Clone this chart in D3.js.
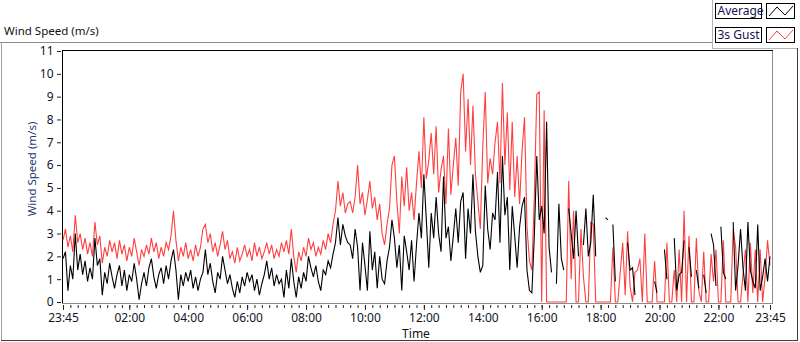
<!DOCTYPE html>
<html>
<head>
<meta charset="utf-8">
<script src="https://cdn.jsdelivr.net/npm/d3@7"></script>
<style>
    body { margin: 0; background: #fff; }
    text { font-family: "Segoe UI", "Noto Sans", sans-serif; }
</style>
</head>
<body>
<script>
var width = 800,
    height = 342;

// data: 5 minute samples from 23:45 to 23:45 next day, null = no reading
var startTime = new Date(2016, 5, 1, 23, 45),
    stepMinutes = 5;

var seriesNames = ["Average", "3s Gust"],
    seriesColors = ["#000000", "#ff4040"];

var avgSpeed = [
    1.9,2.2,0.5,1.6,1.0,3.0,1.4,2.1,1.2,1.8, 0.9,1.5,1.0,2.8,1.6,1.9,0.3,1.3,0.8,1.7,
    1.1,0.6,1.2,1.6,0.7,1.4,0.5,1.2,0.9,1.7, 1.0,0.1,0.8,1.3,0.7,1.5,1.9,1.1,0.6,1.2,
    1.5,0.8,1.6,1.0,1.8,2.3,1.4,0.1,1.2,0.7, 1.3,0.9,1.4,0.6,1.1,0.5,1.0,1.3,
    2.3,1.2,1.7,0.9,0.4,1.3,1.0,2.0,1.4,0.8, 1.2,0.6,0.2,0.9,0.4,1.1,0.7,1.3,0.9,1.2,
    0.5,1.0,0.3,0.8,1.2,1.8,1.0,1.5,0.7,1.2, 0.8,1.0,0.2,1.4,0.6,1.9,0.9,0.2,1.1,0.6,
    1.3,0.9,2.0,1.5,1.1,1.6,0.9,0.5,1.4,1.2, 1.8,1.5,2.1,2.6,3.7,2.5,3.4,2.9,2.6,
    2.5,1.9,3.2,2.4,0.5,2.6,1.6,0.5,3.1,1.4, 2.2,0.6,2.0,1.0,0.8,1.8,2.4,3.6,2.8,1.5,
    2.5,0.5,2.9,2.2,1.4,2.7,0.9,2.5,3.9,2.8, 5.6,3.6,1.5,3.9,2.8,4.6,3.0,2.2,5.5,2.8,
    3.3,1.8,2.9,4.1,2.6,4.4,4.8,1.9,4.1,3.0, 5.6,3.1,2.0,1.3,1.6,5.1,3.2,2.3,3.9,
    3.6,5.7,2.6,6.4,3.8,4.6,1.4,4.2,2.9,1.5, 3.3,4.2,4.6,1.4,0.5,0.4,2.9,6.4,3.6,4.2,
    3.0,7.9,2.4,1.3,null,0.8,4.3,1.9,1.4,null, 4.1,3.0,1.9,4.0,2.0,null,2.5,4.1,2.0,2.6,
    4.7,2.0,null,null,null,3.7,3.6,null,3.4,0.9, null,null,null,null,2.6,1.4,1.5,0.3,
    null,null,null,null,null,null,null,0.9,0.4,null, null,2.3,1.0,null,null,2.8,0.5,1.2,1.3,2.7,
    null,2.4,1.1,null,1.4,0.6,null,1.2,0.4,null, 3.0,2.5,0.7,null,3.3,1.3,1.0,null,null,3.5,
    0.5,1.6,3.2,1.5,0.5,3.5,1.4,0.9,0.6,3.4, 0.5,1.1,1.9,0.9,2.0
];

var gustSpeed = [
    2.7,3.2,2.4,2.9,2.2,3.8,2.6,3.0,2.3,2.8, 2.1,2.6,2.0,3.5,2.5,2.9,1.7,2.4,2.0,2.7,
    2.2,2.6,1.9,2.7,2.1,2.5,1.8,2.4,2.0,2.8, 2.2,1.6,2.3,2.0,2.5,2.1,2.8,2.2,2.6,1.9,
    2.4,2.0,2.6,2.3,2.9,4.0,2.7,1.8,2.4,2.0, 2.6,1.9,2.3,1.8,2.5,2.0,2.4,3.2,
    3.4,2.6,3.0,2.2,2.6,2.0,2.5,3.1,2.3,2.7, 1.9,2.2,1.7,2.4,1.8,2.1,2.5,2.0,2.3,1.8,
    2.6,2.0,2.4,1.9,2.2,2.6,2.1,2.5,1.9,2.3, 2.0,2.6,2.2,2.7,2.1,3.2,2.0,1.3,2.2,1.8,
    2.4,2.0,2.8,2.3,2.6,2.0,2.4,2.1,2.7,2.3, 3.0,2.6,3.4,4.0,5.3,4.2,4.8,3.9,4.3,
    4.4,3.9,4.6,6.0,4.3,4.8,3.8,4.5,5.3,4.1, 4.6,3.6,4.3,3.0,2.5,3.4,4.1,6.0,6.4,4.4,
    3.0,5.5,4.2,5.9,4.0,4.8,3.6,5.2,6.6,5.0, 8.1,5.4,6.2,7.4,5.6,7.7,4.8,5.8,6.4,4.3,
    7.6,4.7,6.0,7.2,5.1,9.2,10.0,6.6,8.9,6.0, 8.6,5.6,4.4,3.2,6.8,9.2,5.2,6.3,5.6,
    7.0,7.9,5.2,9.6,6.0,8.3,4.9,7.9,4.6,6.4, 4.3,6.6,8.1,3.3,1.8,1.4,4.6,9.1,9.2,0,
    8.4,0,0,0,0,0,0,0,0,0, 5.3,1.0,4.0,0,0,3.2,1.1,0,0,3.5,
    3.4,0,0,0,0,0,0,0,2.4,0, 0,1.3,2.6,0.3,3.1,0.7,0,1.3,
    1.4,1.9,0,3.0,0,0,0,1.8,0,0, 0,0,2.6,0,0,1.4,0,2.3,0,4.0,
    0,2.9,0,0,2.8,0.5,0,2.2,0,0, 2.1,0.9,2.3,0,0,2.7,0,0,0,3.2,
    2.4,0,0,1.2,2.3,0,2.6,0.4,2.3,0, 2.3,0,1.1,2.7,1.6
];

var yTickValues = [0,1,2,3,4,5,6,7,8,9,10,11];
var xTickLabels = ["23:45","02:00","04:00","06:00","08:00","10:00","12:00",
                   "14:00","16:00","18:00","20:00","22:00","23:45"];
// end data

var endTime = d3.timeMinute.offset(startTime, 24 * 60);

function timeAt(i) {
    return d3.timeMinute.offset(startTime, i * stepMinutes);
}

function labelToTime(label, idx) {
    if (idx === xTickLabels.length - 1) return endTime;
    var parts = label.split(":");
    var mins = (+parts[0] * 60 + +parts[1]) - (23 * 60 + 45);
    if (mins < 0) mins += 1440;
    return d3.timeMinute.offset(startTime, mins);
}

var xRange = d3.scaleTime().domain([startTime, endTime]).range([63, 770]),
    yRange = d3.scaleLinear().domain([0, 11]).range([302, 51]);

var svg = d3.select("body").append("svg")
    .attr("width", width)
    .attr("height", height);

// frame
svg.append("line").attr("x1", 0).attr("x2", 712).attr("y1", 42.5).attr("y2", 42.5)
    .attr("stroke", "#8c8c8c");
svg.append("line").attr("x1", 1.5).attr("x2", 1.5).attr("y1", 42).attr("y2", 341)
    .attr("stroke", "#a0a0a0");
svg.append("line").attr("x1", 712.5).attr("x2", 712.5).attr("y1", 0).attr("y2", 48)
    .attr("stroke", "#b4b4b4");
svg.append("line").attr("x1", 712).attr("x2", 798).attr("y1", 48.5).attr("y2", 48.5)
    .attr("stroke", "#b4b4b4");
svg.append("line").attr("x1", 797.5).attr("x2", 797.5).attr("y1", 48).attr("y2", 341)
    .attr("stroke", "#3c3c3c");
svg.append("line").attr("x1", 1).attr("x2", 798).attr("y1", 340.5).attr("y2", 340.5)
    .attr("stroke", "#3c3c3c");

svg.append("text")
    .attr("x", 4)
    .attr("y", 35)
    .attr("font-size", 11.5)
    .attr("fill", "#111")
    .text("Wind Speed (m/s)");
// end frame

// plot area border
svg.append("line").attr("x1", 62).attr("x2", 773).attr("y1", 50.5).attr("y2", 50.5)
    .attr("stroke", "#000");
svg.append("line").attr("x1", 62.5).attr("x2", 62.5).attr("y1", 50).attr("y2", 303)
    .attr("stroke", "#000");
svg.append("line").attr("x1", 772.5).attr("x2", 772.5).attr("y1", 51).attr("y2", 304)
    .attr("stroke", "#8c8c8c");
svg.append("line").attr("x1", 62).attr("x2", 773).attr("y1", 303.5).attr("y2", 303.5)
    .attr("stroke", "#8c8c8c");

// series
var gPlot = svg.append("g");
var lineGen = d3.line()
    .defined(function(d) { return d != null; })
    .x(function(d, i) { return xRange(timeAt(i)); })
    .y(function(d) { return yRange(d); });

var seriesData = [avgSpeed, gustSpeed];
[1, 0].forEach(function(s) {
    gPlot.append("path")
        .attr("d", lineGen(seriesData[s]))
        .attr("fill", "none")
        .attr("stroke", seriesColors[s])
        .attr("stroke-width", 1.1);
});
// end series

// y axis
var yAxis = svg.append("g")
    .attr("transform", "translate(61,0)")
    .call(d3.axisLeft(yRange).tickValues(yTickValues).tickSize(4).tickPadding(3.5));
yAxis.select(".domain").remove();
yAxis.selectAll("line").attr("stroke", "#222");
yAxis.selectAll("text")
    .attr("font-size", 12)
    .attr("font-family", null)
    .attr("fill", "#141428");

svg.append("text")
    .attr("transform", "translate(32,169) rotate(-90)")
    .attr("text-anchor", "middle")
    .attr("dy", "0.35em")
    .attr("font-size", 11.5)
    .attr("fill", "#1f3a70")
    .text("Wind Speed (m/s)");
// end y axis

// x axis
var xMinor = svg.append("g")
    .attr("transform", "translate(0,305)")
    .call(d3.axisBottom(xRange).ticks(d3.timeMinute.every(15)).tickFormat("").tickSize(3));
xMinor.select(".domain").remove();
xMinor.selectAll("line").attr("stroke", "#222");

var xTickTimes = xTickLabels.map(labelToTime);
var xMajor = svg.append("g")
    .attr("transform", "translate(0,305)")
    .call(d3.axisBottom(xRange).tickValues(xTickTimes)
        .tickFormat(function(d, i) { return xTickLabels[i]; })
        .tickSize(5).tickPadding(3));
xMajor.select(".domain").remove();
xMajor.selectAll("line").attr("stroke", "#222");
xMajor.selectAll("text")
    .attr("font-size", 12)
    .attr("font-family", null)
    .attr("fill", "#141428");

svg.append("text")
    .attr("x", 416)
    .attr("y", 338)
    .attr("text-anchor", "middle")
    .attr("font-size", 12)
    .attr("fill", "#111")
    .text("Time");
// end x axis

// legend
var legend = svg.append("g");
seriesNames.forEach(function(name, s) {
    var top = 3 + s * 24;
    legend.append("rect")
        .attr("x", 715.5).attr("y", top + 0.5)
        .attr("width", 46).attr("height", 15)
        .attr("fill", "#fff").attr("stroke", "#000");
    legend.append("text")
        .attr("x", 717.5).attr("y", top + 12)
        .attr("font-size", 12)
        .attr("fill", "#141450")
        .text(name);
    legend.append("rect")
        .attr("x", 766.5).attr("y", top + 0.5)
        .attr("width", 28).attr("height", 15)
        .attr("fill", "#fff").attr("stroke", "#000");
    legend.append("path")
        .attr("d", "M769," + (top + 13) + "L777," + (top + 4) + "L785," + (top + 12) + "L793," + (top + 3))
        .attr("fill", "none")
        .attr("stroke", seriesColors[s]);
});
// end legend
</script>
</body>
</html>
